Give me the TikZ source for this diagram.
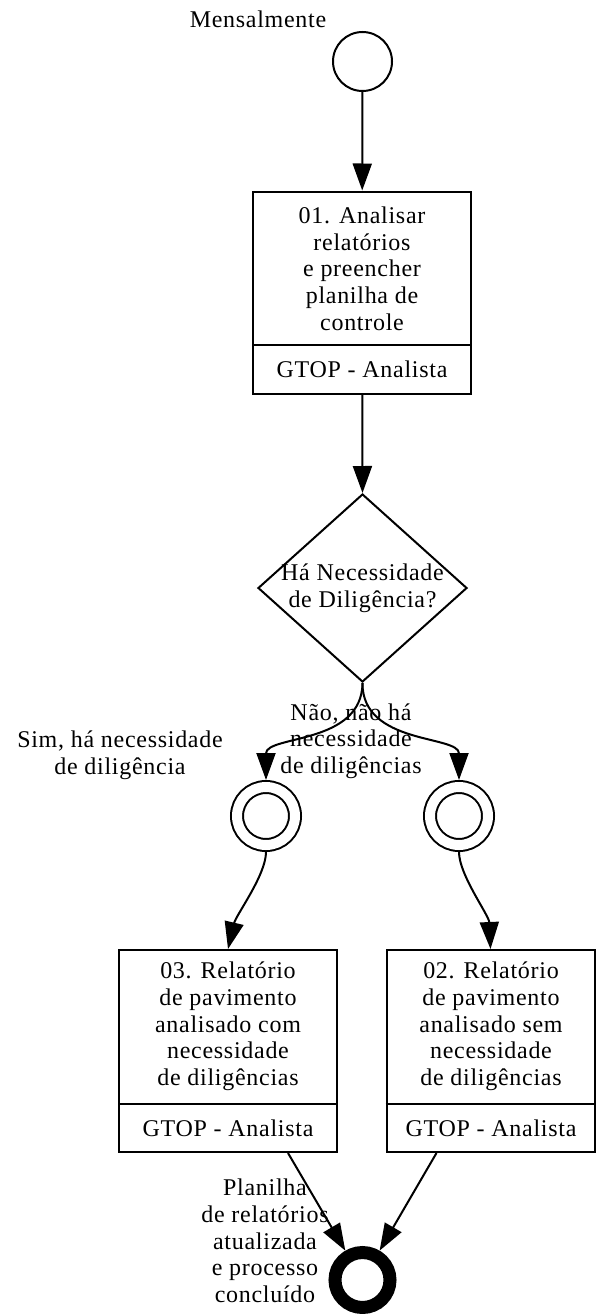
\documentclass[tikz,border=0pt]{standalone}
\usepackage{fontspec}
\setmainfont{Liberation Serif}[LetterSpace=3]
\usetikzlibrary{shapes.geometric,arrows.meta}
\begin{document}
\begin{tikzpicture}[x=1pt,y=1pt,
  every node/.style={font=\fontsize{24}{26.7}\selectfont, inner sep=0pt, align=center},
  flow/.style={line width=2pt, -{Triangle[length=27pt,width=19pt]}},
  taskbox/.style={draw, line width=2pt, rectangle, minimum width=218pt, minimum height=202pt},
  startev/.style={draw, circle, line width=2pt, minimum size=59pt},
  midev/.style={draw, circle, line width=2pt, double, double distance=10pt, minimum size=58pt, outer sep=7pt},
  endev/.style={draw, circle, line width=13pt, minimum size=55pt},
  gateway/.style={draw, diamond, line width=2pt, minimum width=209pt, minimum height=188pt}
]
% canvas
\fill[white] (0,0) rectangle (597,-1314);
\useasboundingbox (0,0) rectangle (597,-1314);

% events
\node[startev] (s) at (362.5,-61.5) {};
\node (slabel) at (258,-19) {Mensalmente};

% task 01
\node[taskbox] (t1) at (362,-292.5) {};
\node (t1txt) at (362,-268.5) {01. Analisar\\relatórios\\e preencher\\planilha de\\controle};
\node (t1role) at (362,-369) {GTOP - Analista};
\draw[line width=2pt] (t1.west |- 0,-345) -- (t1.east |- 0,-345);

% gateway
\node[gateway] (gw) at (362.5,-588) {};
\node (gwtxt) at (362.5,-588.5) {Há Necessidade\\de Diligência?};

% intermediate events
\node[midev] (c1) at (266,-816) {};
\node[midev] (c2) at (459,-816) {};
\node (simlabel) at (120,-755) {Sim, há necessidade\\de diligência};
\node (naolabel) at (351,-741) {Não, não há\\necessidade\\de diligências};

% task 03
\node[taskbox] (t3) at (228,-1051) {};
\node (t3txt) at (228,-1026.5) {03. Relatório\\de pavimento\\analisado com\\necessidade\\de diligências};
\node (t3role) at (228,-1128.5) {GTOP - Analista};
\draw[line width=2pt] (t3.west |- 0,-1104) -- (t3.east |- 0,-1104);

% task 02
\node[taskbox, minimum width=208pt] (t2) at (490.5,-1051) {};
\node (t2txt) at (491,-1026.5) {02. Relatório\\de pavimento\\analisado sem\\necessidade\\de diligências};
\node (t2role) at (491,-1128.5) {GTOP - Analista};
\draw[line width=2pt] (t2.west |- 0,-1104) -- (t2.east |- 0,-1104);

% end event
\node[endev] (e) at (362.5,-1280) {};
\node (elabel) at (265,-1241) {Planilha\\de relatórios\\atualizada\\e processo\\concluído};

% flows
\draw[flow] (s) -- (t1);
\draw[flow] (t1) -- (gw.north);
\draw[flow] (gw.south) .. controls (362,-745) and (266,-735) .. (c1.north);
\draw[flow] (gw.south) .. controls (362,-745) and (459,-735) .. (c2.north);
\draw[flow] (c1.south) .. controls (266,-875) and (236,-915) .. (t3.north);
\draw[flow] (c2.south) .. controls (459,-875) and (489,-915) .. (t2.north);
\draw[flow] ([xshift=60pt]t3.south) -- (e);
\draw[flow] ([xshift=-54pt]t2.south) -- (e);
\end{tikzpicture}
\end{document}
